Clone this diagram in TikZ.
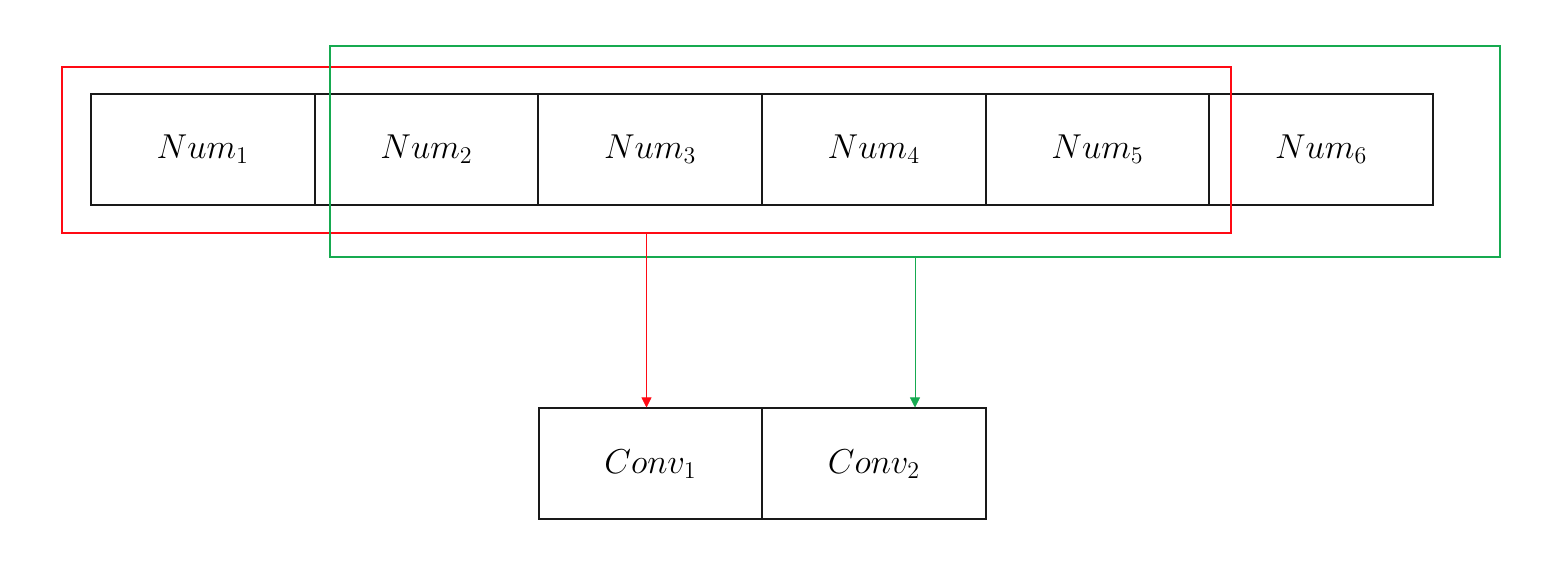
\documentclass[tikz,border=0pt]{standalone}
\usetikzlibrary{arrows.meta}
\definecolor{rred}{RGB}{255,10,20}
\definecolor{ggreen}{RGB}{22,170,80}
\begin{document}
\begin{tikzpicture}[x=0.5pt,y=-0.5pt,
  cell/.style={draw=black!90,line width=1pt,minimum width=111.8pt,minimum height=55.5pt,inner sep=0pt,font=\fontsize{17}{20}\selectfont},
  frame/.style={draw=#1,line width=1pt,inner sep=0pt},
  link/.style={draw=#1,line width=0.4pt,-{Triangle[width=5pt,length=5pt]}}]
\useasboundingbox (0,0) rectangle (1568,576);
\foreach \i in {1,...,6}{
  \node[cell] (n\i) at ({91+223.67*(\i-0.5)},149.5) {$Num_{\i}$};
}
\node[cell] (c1) at (650.5,464) {$Conv_{1}$};
\node[cell] (c2) at (874,464) {$Conv_{2}$};
\node[frame=rred,minimum width=584.5pt,minimum height=83pt] (red) at (646.5,150) {};
\node[frame=ggreen,minimum width=585pt,minimum height=105.5pt] (green) at (915,151.5) {};
\draw[link=rred] (red.south) -- (red.south |- c1.north);
\draw[link=ggreen] (green.south) -- (green.south |- c2.north);
\end{tikzpicture}
\end{document}
